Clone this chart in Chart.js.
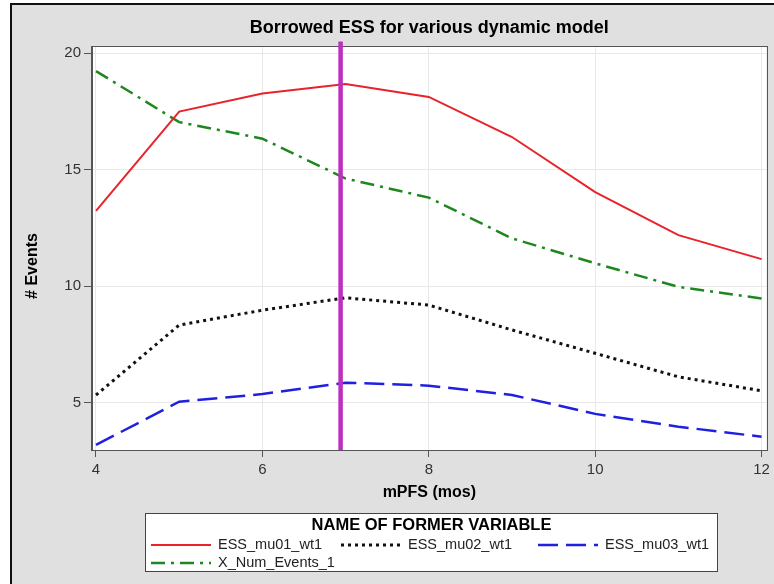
<!DOCTYPE html>
<html><head><meta charset="utf-8">
<script src="https://cdn.jsdelivr.net/npm/chart.js@4"></script>
<style>html,body{margin:0;padding:0;background:#fff}#wrap{width:774px;height:584px}</style>
</head><body><div id="wrap"><canvas id="c" width="774" height="584"></canvas></div>
<script>
// ---- data ----
const mPFS = [4, 5, 6, 7, 8, 9, 10, 11, 12];
const essMu01 = [13.23, 17.49, 18.27, 18.67, 18.12, 16.40, 14.04, 12.19, 11.16];
const essMu02 = [5.33, 8.33, 8.97, 9.50, 9.19, 8.12, 7.12, 6.11, 5.51];
const essMu03 = [3.19, 5.04, 5.37, 5.86, 5.73, 5.33, 4.52, 3.97, 3.54];
const numEvents = [19.23, 17.04, 16.33, 14.62, 13.80, 12.05, 10.98, 9.97, 9.47];
const seriesNames = ['ESS_mu01_wt1', 'ESS_mu02_wt1', 'ESS_mu03_wt1', 'X_Num_Events_1'];
const refLineX = 6.94;
const refLineY = [2.97, 20.5];
const xTicks = [4, 6, 8, 10, 12];
const yTicks = [5, 10, 15, 20];
const chartTitle = 'Borrowed ESS for various dynamic model';
const xTitle = 'mPFS (mos)';
const yTitle = '# Events';
const legendTitle = 'NAME OF FORMER VARIABLE';

const FONT = "'Liberation Sans', Arial, Helvetica, sans-serif";
Chart.defaults.font.family = FONT;

const pts = arr => mPFS.map((x, i) => ({x, y: arr[i]}));

const bgPlugin = {
  id: 'bg',
  beforeDraw(chart) {
    const {ctx, width, height, chartArea: a} = chart;
    ctx.save();
    ctx.fillStyle = '#ffffff'; ctx.fillRect(0, 0, width, height);
    ctx.fillStyle = '#e0e0e0'; ctx.fillRect(12, 5, width - 12, height - 5);
    ctx.fillStyle = '#111111';
    ctx.fillRect(10, 3, width - 10, 2);
    ctx.fillRect(10, 3, 2, height - 3);
    ctx.fillStyle = '#ffffff';
    ctx.fillRect(a.left, a.top, a.right - a.left, a.bottom - a.top);
    ctx.restore();
  },
  beforeDatasetsDraw(chart) {
    const {ctx, chartArea: a} = chart;
    ctx.save();
    ctx.strokeStyle = '#555555'; ctx.lineWidth = 1;
    ctx.strokeRect(Math.round(a.left) - 0.5, Math.round(a.top) - 0.5,
      Math.round(a.right - a.left) + 1, Math.round(a.bottom - a.top) + 1);
    // y-axis title (SAS places it slightly below the axis centre)
    ctx.translate(33, 266);
    ctx.rotate(-Math.PI / 2);
    ctx.fillStyle = '#000000';
    ctx.font = 'bold 16px ' + FONT;
    ctx.textAlign = 'center'; ctx.textBaseline = 'middle';
    ctx.fillText(yTitle, 0, 0);
    ctx.restore();
  }
};

const legendPlugin = {
  id: 'sasLegend',
  afterDraw(chart) {
    const {ctx} = chart;
    const box = {l: 145, t: 513, r: 718, b: 572};
    ctx.save();
    ctx.fillStyle = '#ffffff';
    ctx.fillRect(box.l, box.t, box.r - box.l, box.b - box.t);
    ctx.strokeStyle = '#444444'; ctx.lineWidth = 1;
    ctx.strokeRect(box.l + 0.5, box.t + 0.5, box.r - box.l - 1, box.b - box.t - 1);
    ctx.fillStyle = '#000000';
    ctx.font = 'bold 16.5px ' + FONT;
    ctx.textAlign = 'center'; ctx.textBaseline = 'middle';
    ctx.fillText(legendTitle, (box.l + box.r) / 2, 525);
    const slots = [[151, 545], [341, 545], [538, 545], [151, 563]];
    const items = chart.data.datasets.filter(d => seriesNames.includes(d.label));
    ctx.textAlign = 'left';
    ctx.font = '14.5px ' + FONT;
    items.forEach((d, i) => {
      const [x, y] = slots[i];
      ctx.beginPath();
      ctx.setLineDash(d.borderDash || []);
      ctx.lineWidth = d.borderWidth;
      ctx.strokeStyle = d.borderColor;
      ctx.moveTo(x, y); ctx.lineTo(x + 60, y);
      ctx.stroke();
      ctx.setLineDash([]);
      ctx.fillStyle = '#222222';
      ctx.fillText(d.label, x + 67, y);
    });
    ctx.restore();
  }
};

new Chart(document.getElementById('c'), {
  type: 'line',
  data: {
    datasets: [
      {label: 'ref', data: [{x: refLineX, y: refLineY[0]}, {x: refLineX, y: refLineY[1]}],
       borderColor: '#bf2fbf', borderWidth: 4.5, pointRadius: 0, clip: false, order: -1, borderCapStyle: 'butt'},
      {label: seriesNames[0], data: pts(essMu01), borderColor: '#e8232b', borderWidth: 2, pointRadius: 0},
      {label: seriesNames[1], data: pts(essMu02), borderColor: '#111111', borderWidth: 3, borderDash: [3, 4], pointRadius: 0},
      {label: seriesNames[2], data: pts(essMu03), borderColor: '#2020e0', borderWidth: 2.5, borderDash: [20, 8], pointRadius: 0},
      {label: seriesNames[3], data: pts(numEvents), borderColor: '#1f871f', borderWidth: 2.5, borderDash: [14, 6, 3, 6], pointRadius: 0}
    ]
  },
  options: {
    responsive: false, animation: false, devicePixelRatio: 1,
    layout: {padding: {left: 12, right: 3.5, top: 3, bottom: 80}},
    plugins: {
      legend: {display: false}, tooltip: {enabled: false},
      title: {display: true, text: chartTitle, fullSize: false, color: '#000',
        font: {size: 18, weight: 'bold'}, padding: {top: 14, bottom: 8}}
    },
    scales: {
      x: {
        type: 'linear', min: 3.952, max: 12.06,
        afterBuildTicks: s => { s.ticks = xTicks.map(v => ({value: v})); },
        afterFit: s => { s.height = 54; },
        ticks: {color: '#333', font: {size: 15}, padding: 4, maxRotation: 0, autoSkip: false},
        grid: {color: '#e8e8e8', tickColor: '#555', tickLength: 7},
        border: {color: '#555'},
        title: {display: true, text: xTitle, color: '#000', font: {size: 16, weight: 'bold'}, padding: {top: 4, bottom: 2}}
      },
      y: {
        type: 'linear', min: 2.97, max: 20.28,
        afterBuildTicks: s => { s.ticks = yTicks.map(v => ({value: v})); },
        afterFit: s => { s.width = 80; },
        ticks: {color: '#333', font: {size: 15}, padding: 3},
        grid: {color: '#e8e8e8', tickColor: '#555', tickLength: 8},
        border: {color: '#555'},
        title: {display: false, text: yTitle}
      }
    }
  },
  plugins: [bgPlugin, legendPlugin]
});
</script></body></html>
